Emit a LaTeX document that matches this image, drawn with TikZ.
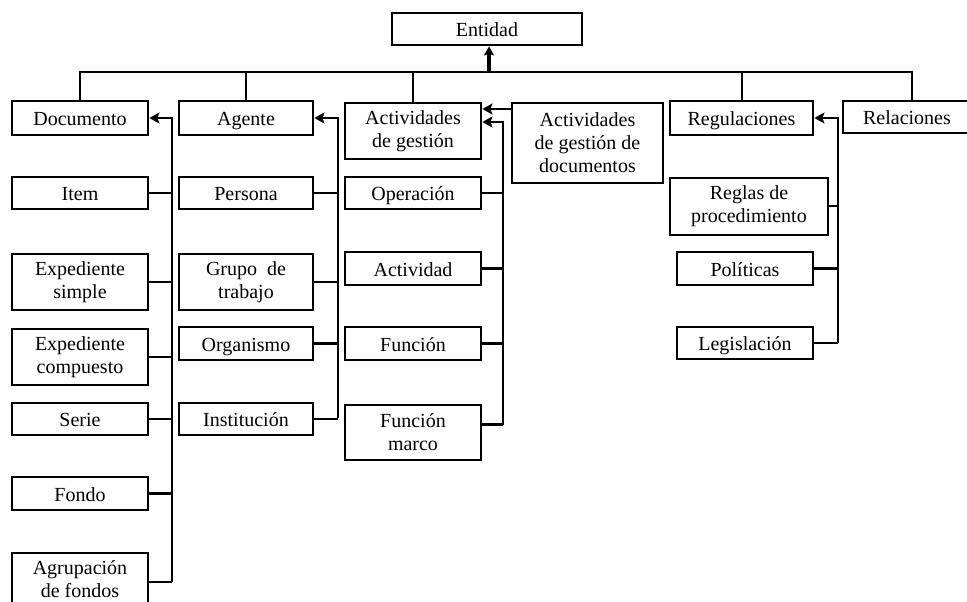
\documentclass[tikz,border=0pt]{standalone}
\usepackage{fontspec}
\setmainfont{Liberation Serif}
\usetikzlibrary{arrows.meta}
\begin{document}
\begin{tikzpicture}[x=1pt,y=-1pt,
  box/.style={draw=black, line width=2.8pt, fill=white, inner sep=0pt,
    align=center, font=\fontsize{20}{23}\selectfont},
  one/.style={box, text height=18pt, text depth=3pt},
  two/.style={box, yshift=-2pt},
  link/.style={draw=black, line width=2.2pt},
  toparent/.style={link, -{Stealth[length=10pt,width=11pt,inset=2pt]}},
  toroot/.style={draw=black, line width=3.2pt, -{Stealth[length=9pt,width=10pt,inset=1.5pt]}}]
\useasboundingbox (0,0) rectangle (967,602);
\clip (0,0) rectangle (967,602);
\fill[white] (0,0) rectangle (967,602);

% root and first level
\node[one, minimum width=190pt, minimum height=32pt] (entidad) at (487,29) {Entidad};
\node[one, minimum width=136pt, minimum height=34pt] (doc) at (80,118) {Documento};
\node[one, minimum width=134pt, minimum height=34pt] (agente) at (246,118) {Agente};
\node[two, minimum width=136pt, minimum height=56pt] (actg) at (413,129) {Actividades\\de gestión};
\node[two, minimum width=151pt, minimum height=80pt] (actgd) at (587.5,141) {Actividades\\de gestión de\\documentos};
\node[one, minimum width=143pt, minimum height=34pt] (regul) at (741.5,118) {Regulaciones};
\node[one, minimum width=128pt, minimum height=32pt] (relac) at (907,117) {Relaciones};

% documents
\node[one, minimum width=136pt, minimum height=32pt] (item) at (80,193) {Item};
\node[two, minimum width=136pt, minimum height=56pt] (expsim) at (80,280) {Expediente\\simple};
\node[two, minimum width=136pt, minimum height=56pt] (expcom) at (80,355) {Expediente\\compuesto};
\node[one, minimum width=136pt, minimum height=32pt] (serie) at (80,419) {Serie};
\node[one, minimum width=136pt, minimum height=33pt] (fondo) at (80,493.5) {Fondo};
\node[two, minimum width=136pt, minimum height=52pt] (agrup) at (80,577) {Agrupación\\de fondos};

% agents
\node[one, minimum width=134pt, minimum height=32pt] (persona) at (246,193) {Persona};
\node[two, minimum width=134pt, minimum height=56pt] (grupo) at (246,280) {Grupo\ \ de\\trabajo};
\node[one, minimum width=134pt, minimum height=33pt] (organismo) at (246,343.5) {Organismo};
\node[one, minimum width=134pt, minimum height=32pt] (institucion) at (246,419) {Institución};

% management activities
\node[one, minimum width=136pt, minimum height=32pt] (operacion) at (413,193) {Operación};
\node[one, minimum width=136pt, minimum height=33pt] (actividad) at (413,268.5) {Actividad};
\node[one, minimum width=136pt, minimum height=33pt] (funcion) at (413,343.5) {Función};
\node[two, minimum width=136pt, minimum height=55pt] (fmarco) at (413,430.5) {Función\\marco};

% regulations
\node[two, minimum width=158pt, minimum height=57pt] (reglas) at (749,204.5) {Reglas de\\procedimiento};
\node[one, minimum width=136pt, minimum height=33pt] (politicas) at (745,268.5) {Políticas};
\node[one, minimum width=136pt, minimum height=32pt] (legis) at (745,343) {Legislación};

% bus under the root
\coordinate (busL) at (80,72);
\coordinate (busR) at (912,72);
\coordinate (busM) at (489,72);
\draw[link] ([xshift=-1.1pt]busL) -- ([xshift=1.1pt]busR);
\draw[link] (doc.north) -- (doc.north |- busL);
\draw[link] (agente.north) -- (agente.north |- busL);
\draw[link] (actg.north) -- (actg.north |- busL);
\draw[link] ([xshift=0.5pt]regul.north) -- ([xshift=0.5pt]regul.north |- busL);
\draw[link] ([xshift=5pt]relac.north) -- ([xshift=5pt]relac.north |- busL);
\draw[toroot] (busM) -- (busM |- entidad.south);

% documents spine
\coordinate (sd) at (172,118);
\foreach \n in {item,expsim,expcom,serie,fondo}
  \draw[link] (\n.east) -- (\n.east -| sd);
\draw[link] ([yshift=-3pt]agrup.east) -- ([yshift=-3pt]agrup.east -| sd);
\draw[toparent] ([yshift=-3pt]agrup.east -| sd) -- (sd) -- (doc.east);

% agents spine
\coordinate (sa) at (338,118);
\foreach \n in {persona,grupo,organismo,institucion}
  \draw[link] (\n.east) -- (\n.east -| sa);
\draw[toparent] ([yshift=1pt]institucion.east -| sa) -- (sa) -- (agente.east);

% management activities spine
\coordinate (sg) at (503,122);
\foreach \n in {operacion,actividad,funcion}
  \draw[link] (\n.east) -- (\n.east -| sg);
\draw[link] ([yshift=8pt]fmarco.east) -- ([yshift=8pt]fmarco.east -| sg);
\draw[toparent] ([yshift=8pt]fmarco.east -| sg) -- (sg) -- (sg -| actg.east);
\coordinate (gd) at (512,109);
\draw[toparent] (gd) -- (gd -| actg.east);

% regulations spine
\coordinate (sr) at (838,118);
\draw[link] ([yshift=0.5pt]reglas.east) -- ([yshift=0.5pt]reglas.east -| sr);
\draw[link] (politicas.east) -- (politicas.east -| sr);
\draw[link] (legis.east) -- (legis.east -| sr);
\draw[toparent] (legis.east -| sr) -- (sr) -- (regul.east);
\end{tikzpicture}
\end{document}
